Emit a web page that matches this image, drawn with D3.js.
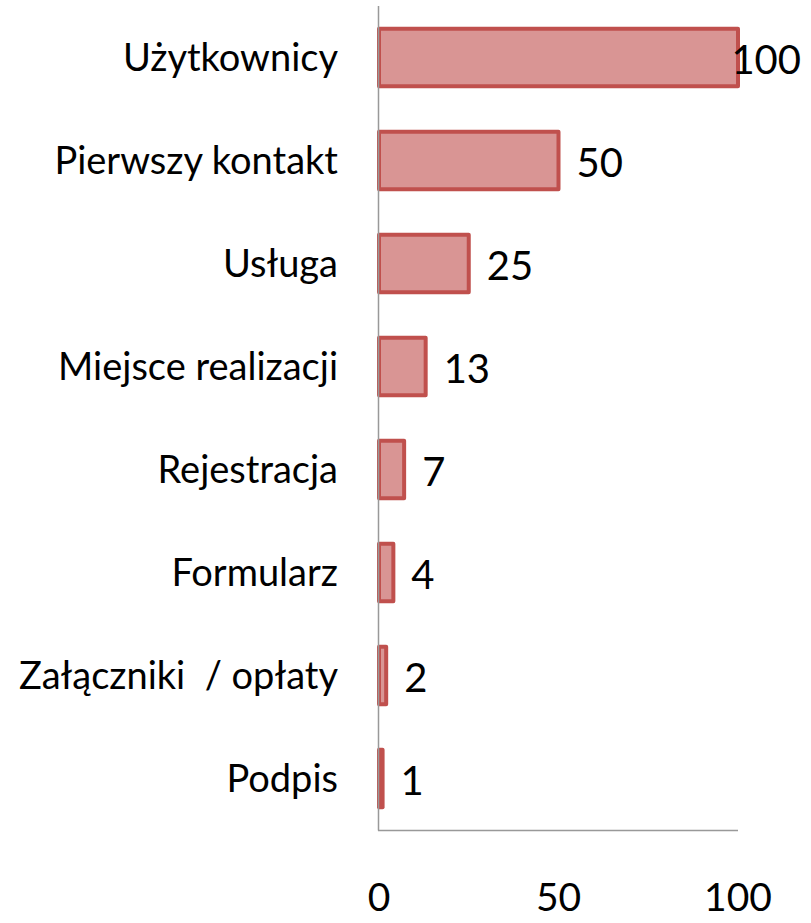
<!DOCTYPE html>
<html>
<head>
<meta charset="utf-8">
<script src="https://cdn.jsdelivr.net/npm/d3@7"></script>
<style>
  html, body { margin: 0; padding: 0; background: #ffffff; }
  svg { display: block; }
  text { font-family: Lato, "Open Sans", sans-serif; fill: #000; white-space: pre; }
</style>
</head>
<body>
<svg id="chart" width="811" height="923"></svg>
<script>
const categories = ["Użytkownicy", "Pierwszy kontakt", "Usługa", "Miejsce realizacji", "Rejestracja", "Formularz", "Załączniki  / opłaty", "Podpis"];
const values = [100, 50, 25, 13, 7, 4, 2, 1];
const xTicks = [0, 50, 100];

const svg = d3.select("#chart");
const W = 811;

const x = d3.scaleLinear().domain([0, 100]).range([379, 738]);
const y = d3.scaleBand().domain(categories).range([6, 830]).paddingInner(0.44).paddingOuter(0.22);

const data = categories.map((c, i) => ({ c, v: values[i] }));

// bars
svg.append("g").selectAll("rect").data(data).join("rect")
  .attr("x", x(0))
  .attr("y", d => y(d.c))
  .attr("width", d => x(d.v) - x(0))
  .attr("height", y.bandwidth())
  .attr("fill", "#D99594")
  .attr("stroke", "#C0504D")
  .attr("stroke-width", 4)
  .attr("stroke-linejoin", "round");

// axes lines
svg.append("line").attr("x1", 378.5).attr("x2", 378.5).attr("y1", 6).attr("y2", 830.5)
  .attr("stroke", "#999").attr("stroke-width", 1.5);
svg.append("line").attr("x1", 378).attr("x2", 738).attr("y1", 830.5).attr("y2", 830.5)
  .attr("stroke", "#999").attr("stroke-width", 1.5);

// category labels
svg.append("g").selectAll("text").data(data).join("text")
  .attr("x", 338)
  .attr("y", d => y(d.c) + y.bandwidth() / 2 + 13)
  .attr("text-anchor", "end")
  .attr("font-size", 38)
  .attr("xml:space", "preserve")
  .text(d => d.c);

// value labels
const vl = svg.append("g").selectAll("text").data(data).join("text")
  .attr("x", d => x(d.v) + 18)
  .attr("y", d => y(d.c) + y.bandwidth() / 2 + 16)
  .attr("font-size", 40)
  .text(d => d.v);
vl.each(function (d) {
  const w = this.getComputedTextLength();
  const x0 = x(d.v) + 18;
  if (x0 + w > W - 10) d3.select(this).attr("x", W - 10 - w);
});

// x tick labels
svg.append("g").selectAll("text").data(xTicks).join("text")
  .attr("x", d => x(d))
  .attr("y", 911)
  .attr("text-anchor", "middle")
  .attr("font-size", 39)
  .text(d => d);
</script>
</body>
</html>
